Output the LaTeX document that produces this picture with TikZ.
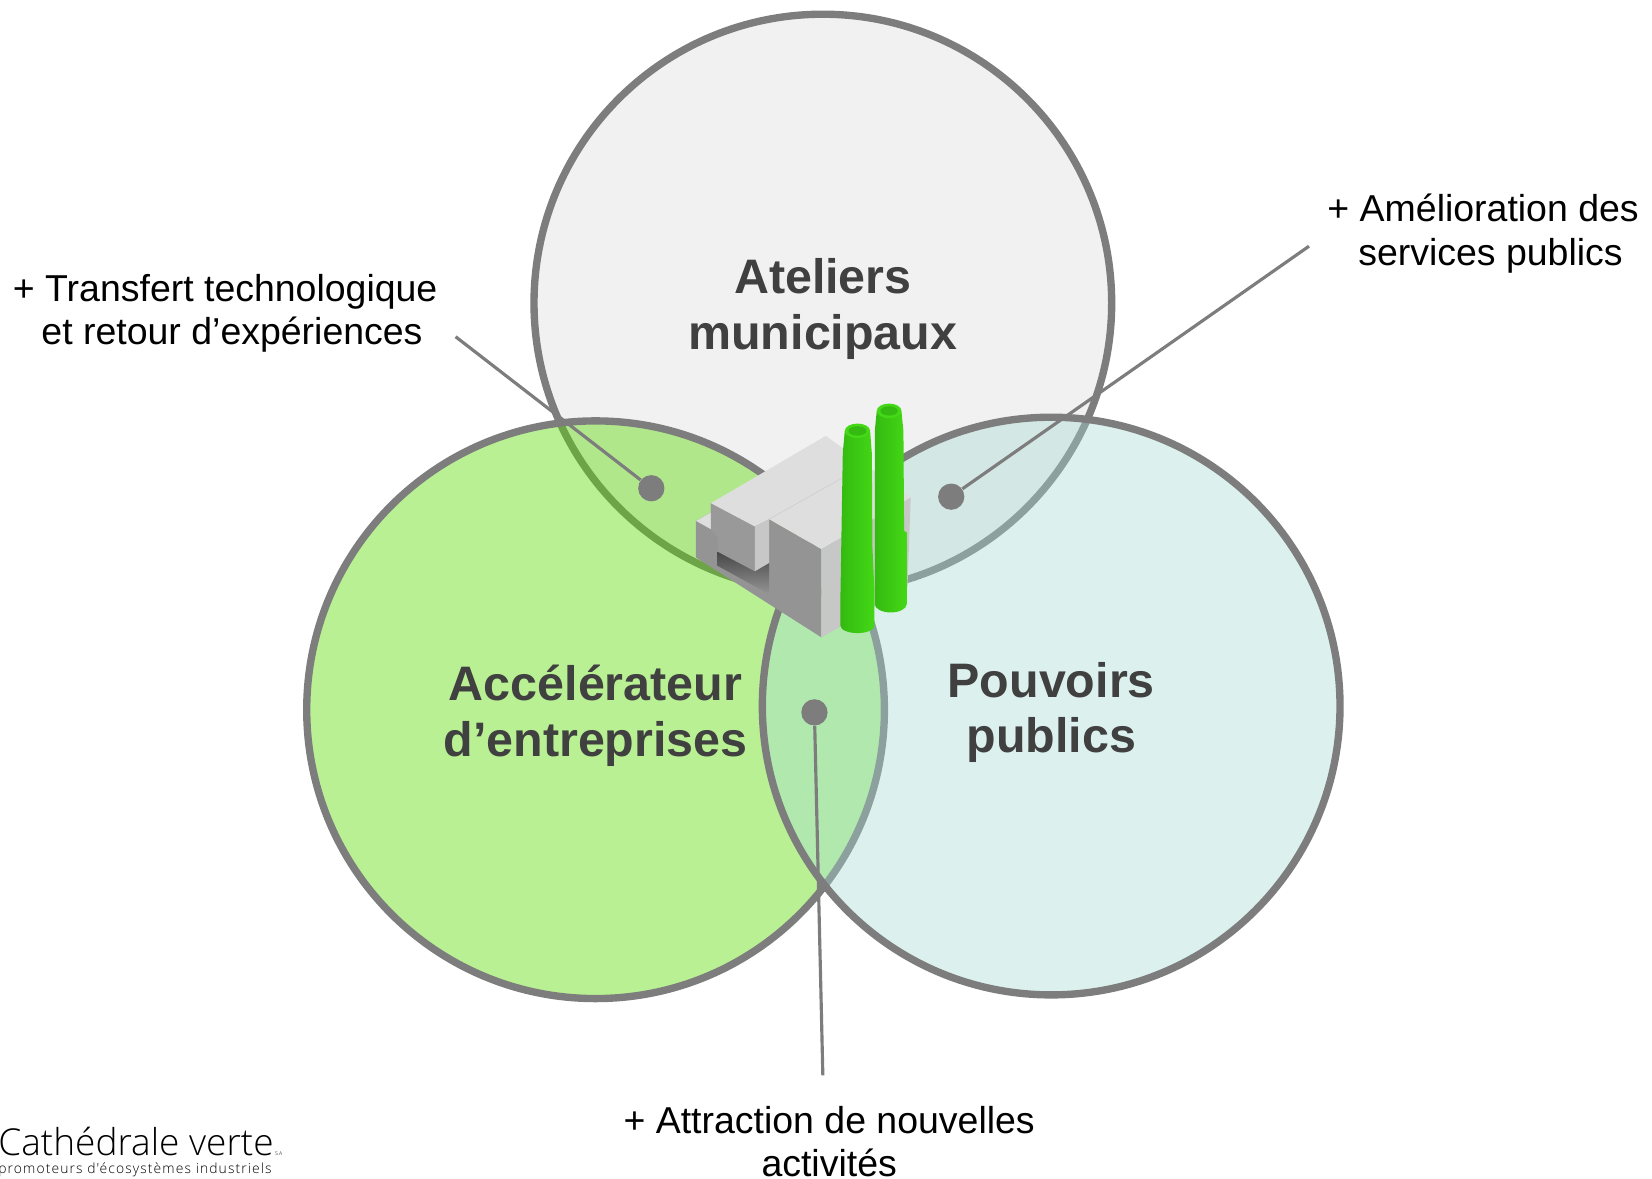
\documentclass[tikz,border=0pt]{standalone}
\usepackage{fontspec}
\setmainfont{Liberation Sans}
\newfontfamily\logofont{Open Sans Light}
\usetikzlibrary{shapes,calc}
\definecolor{rimgrey}{RGB}{125,125,125}
\definecolor{txtgrey}{RGB}{64,64,64}
\definecolor{chimgreen}{RGB}{68,216,22}
\definecolor{chimdark}{RGB}{52,186,16}
\tikzset{
  venn/.style = {circle, draw=rimgrey, line width=3.5pt, minimum size=274.5pt, inner sep=0pt, text opacity=1},
  venn_top/.style = {venn, fill=black!5.5},
  venn_left/.style = {venn, fill={rgb,255:red,88;green,219;blue,0}, fill opacity=0.42},
  venn_right/.style = {venn, fill={rgb,255:red,165;green,219;blue,211}, fill opacity=0.39},
  lbl_main/.style = {align=center, inner sep=0pt, text=txtgrey, font=\fontsize{23pt}{26.5pt}\selectfont\bfseries},
  lbl_side/.style = {align=center, inner sep=0pt, text=black, font=\fontsize{17.8pt}{20.5pt}\selectfont},
  dot_n/.style = {circle, fill=rimgrey, minimum size=12.5pt, inner sep=0pt},
  callout/.style = {draw=rimgrey, line width=1.5pt},
  chim_body/.style = {left color=chimdark, middle color=chimgreen, right color=chimgreen}
}
\begin{document}
\begin{tikzpicture}[x=0.5pt, y=-0.5pt]
\useasboundingbox (-1,-1) rectangle (1569,1119);
% the three circles
\node [venn_top] (atel) at (781,287) {};
\node [venn_left] (accel) at (565,673.5) {};
\node [venn_right] (pouv) at (998,670) {};
\node [lbl_main] (atel_t) at (781,293) {Ateliers\\municipaux};
\node [lbl_main] (accel_t) at (565,679.5) {Acc\'el\'erateur\\d’entreprises};
\node [lbl_main] (pouv_t) at (998,676) {Pouvoirs\\publics};
% factory
\begin{scope}[shift={(646.1,361)}, x=0.1583pt, y=-0.1583pt]
\fill [black!42] (45,420) -- (90,395) -- (90,367) -- (265,415) -- (422,505) -- (422,770) -- (45,530) -- cycle;
\fill [black!13] (45,420) -- (90,395) -- (90,445) -- cycle;
\fill [black!40] (90,367) -- (222,437) -- (222,572) -- (110,513) -- (110,470) -- (90,445) -- cycle;
\fill [black!13] (90,367) -- (435,165) -- (690,350) -- (422,505) -- (265,415) -- (222,437) -- cycle;
\draw [black!18, line width=0.4pt] (265,415) -- (490,288);
\fill [black!22] (222,437) -- (265,415) -- (265,547) -- (222,572) -- cycle;
\fill [black!22] (422,505) -- (690,350) -- (680,620) -- (422,770) -- cycle;
\shade [top color=black!72, bottom color=black!42] (110,513) -- (222,572) -- (265,547) -- (265,640) -- (110,555) -- cycle;
% chimneys
\shade [chim_body] (588,90) -- (662,90) -- (668,150) -- (670,450) -- (678,455) -- (678,670) arc[start angle=0, end angle=180, x radius=48, y radius=25] -- (582,150) -- cycle;
\fill [chimgreen] (625,90) ellipse [x radius=37, y radius=22];
\fill [chimdark] (625,90) ellipse [x radius=26, y radius=14];
\shade [chim_body] (492,150) -- (568,150) -- (573,215) -- (575,500) -- (581,630) -- (581,735) arc[start angle=0, end angle=180, x radius=51, y radius=22] -- (479,640) -- (486,215) -- cycle;
\fill [chimgreen] (530,150) ellipse [x radius=38, y radius=22];
\fill [chimdark] (530,150) ellipse [x radius=27, y radius=14];
\end{scope}
% callouts
\node [dot_n] (dot_a) at (618,463) {};
\node [dot_n] (dot_b) at (903,471) {};
\node [dot_n] (dot_c) at (773,676) {};
\coordinate (end_a) at (432,319);
\coordinate (end_b) at (1243,233);
\coordinate (end_c) at (781,1021);
\draw [callout] (end_a) -- (dot_a);
\draw [callout] (end_b) -- (dot_b);
\draw [callout] (end_c) -- (dot_c);
\node [lbl_side] (txt_a) at (213,297) {+ Transfert technologique\\\hspace*{6.5pt}et retour d’exp\'eriences};
\node [lbl_side] (txt_b) at (1408.5,221) {+ Am\'elioration des\\\hspace*{7pt}services publics};
\node [lbl_side] (txt_c) at (787,1084) {+ Attraction de nouvelles\\activit\'es};
% logo
\node [anchor=base west, inner sep=0pt, font=\logofont\fontsize{17.6pt}{18pt}\selectfont] (logo) at (-3,1097) {Cath\'edrale verte};
\node [anchor=base west, inner sep=0pt, font=\logofont\fontsize{2.5pt}{3pt}\selectfont] (logo_sa) at (260,1097) {S.A};
\node [anchor=base west, inner sep=0pt, font=\logofont\addfontfeature{LetterSpace=8}\fontsize{6.6pt}{7pt}\selectfont] (logo_sub) at (-3,1114) {promoteurs d'\'ecosyst\`emes industriels};
\end{tikzpicture}
\end{document}
